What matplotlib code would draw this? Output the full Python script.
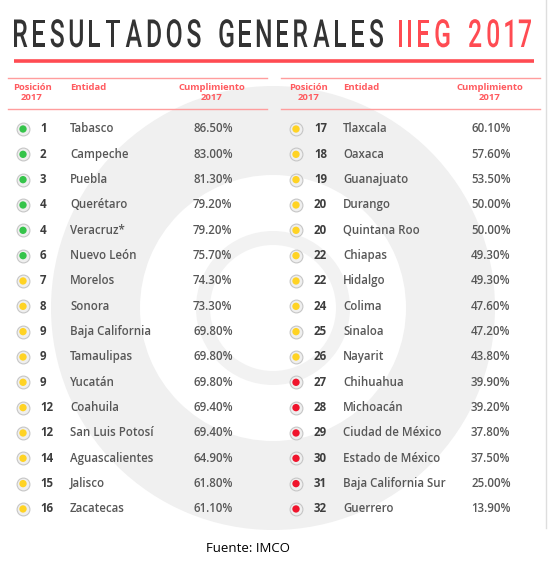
## IIEG 2017 table as a matplotlib figure
import matplotlib
matplotlib.use('Agg')
import matplotlib.pyplot as plt
from matplotlib.patches import Wedge, PathPatch
from matplotlib.textpath import TextPath
from matplotlib.font_manager import FontProperties
from matplotlib.transforms import Affine2D

## data
rank = [1, 2, 3, 4, 4, 6, 7, 8, 9, 9, 9, 12, 12, 14, 15, 16,
        17, 18, 19, 20, 20, 22, 22, 24, 25, 26, 27, 28, 29, 30, 31, 32]
entidad = ['Tabasco', 'Campeche', 'Puebla', 'Querétaro', 'Veracruz*', 'Nuevo León',
           'Morelos', 'Sonora', 'Baja California', 'Tamaulipas', 'Yucatán', 'Coahuila',
           'San Luis Potosí', 'Aguascalientes', 'Jalisco', 'Zacatecas',
           'Tlaxcala', 'Oaxaca', 'Guanajuato', 'Durango', 'Quintana Roo', 'Chiapas',
           'Hidalgo', 'Colima', 'Sinaloa', 'Nayarit', 'Chihuahua', 'Michoacán',
           'Ciudad de México', 'Estado de México', 'Baja California Sur', 'Guerrero']
cumplimiento = [86.5, 83.0, 81.3, 79.2, 79.2, 75.7, 74.3, 73.3, 69.8, 69.8, 69.8, 69.4,
                69.4, 64.9, 61.8, 61.1,
                60.1, 57.6, 53.5, 50.0, 50.0, 49.3, 49.3, 47.6, 47.2, 43.8, 39.9, 39.2,
                37.8, 37.5, 25.0, 13.9]
nivel = ['verde'] * 6 + ['amarillo'] * 20 + ['rojo'] * 6

titulo_1 = 'RESULTADOS GENERALES'
titulo_2 = 'IIEG 2017'
fuente = 'Fuente: IMCO'

## styles
nivel_color = {'verde': '#35c44a', 'amarillo': '#ffd324', 'rojo': '#f0142c'}
RED = '#ff4b52'
HDR = '#ff5a5f'
DARK = '#333333'
GREY = '#575757'
body = FontProperties(family='Open Sans', weight='semibold', size=8.3)
bold = FontProperties(family='Open Sans', weight='bold', size=8.3)
head = FontProperties(family='Open Sans', weight='bold', size=6.8)

fig = plt.figure(figsize=(5.48, 5.79), dpi=100)
ax = fig.add_axes([0, 0, 1, 1])
ax.set_xlim(0, 548)
ax.set_ylim(579, 0)
ax.axis('off')

## faint watermark rings behind the table
cx, cy = 273, 308
ax.add_patch(Wedge((cx, cy), 222, 0, 360, width=89, color='#f0f0f0', lw=0, zorder=0))
ax.add_patch(Wedge((cx, cy), 77, 0, 360, width=14, color='#f2f2f2', lw=0, zorder=0))
ax.plot([546, 546], [0, 528], color='#dedede', lw=1, zorder=0)


def spaced_title(text, x0, x1, baseline, cap_h, color, sx=0.64):
    ## draw condensed letters with even tracking so the text fills x0..x1
    prop = FontProperties(family='Roboto', weight='medium')
    size = cap_h / 0.711
    glyphs = []
    for ch in text:
        if ch == ' ':
            glyphs.append((None, 0, size * 0.18))
            continue
        tp = TextPath((0, 0), ch, size=size, prop=prop)
        bb = tp.get_extents()
        glyphs.append((tp, bb.x0, bb.width * sx))
    ink = sum(g[2] for g in glyphs)
    track = (x1 - x0 - ink) / (len(glyphs) - 1)
    x = x0
    for tp, left, w in glyphs:
        if tp is not None:
            tr = Affine2D().translate(-left, 0).scale(sx, -1).translate(x, baseline)
            ax.add_patch(PathPatch(tr.transform_path(tp), facecolor=color, lw=0, zorder=3))
        x += w + track


spaced_title(titulo_1, 14, 383, 47, 27.5, DARK)
spaced_title(titulo_2, 399, 531, 47, 27.5, RED)
ax.plot([14, 534], [60.5, 60.5], color=RED, lw=2.6, solid_capstyle='butt', zorder=3)

## two column blocks
cols = [dict(x0=8, x1=267, dot=23, rank=40, name=70, pct=193, pos=32, cum=212),
        dict(x0=281, x1=540, dot=296, rank=314, name=343, pct=471, pos=309, cum=490)]

for c, block in enumerate(cols):
    for y in (78, 108.5):
        ax.plot([block['x0'], block['x1']], [y, y], color='#ff9d9d', lw=1, zorder=2)
    ax.text(block['pos'], 87, 'Posición', fontproperties=head, color=HDR, ha='center', va='center')
    ax.text(block['pos'], 97.5, '2017', fontproperties=head, color=HDR, ha='center', va='center')
    ax.text(block['name'], 87, 'Entidad', fontproperties=head, color=HDR, ha='left', va='center')
    ax.text(block['cum'], 87, 'Cumplimiento', fontproperties=head, color=HDR, ha='center', va='center')
    ax.text(block['cum'], 97.5, '2017', fontproperties=head, color=HDR, ha='center', va='center')

    idx = range(c * 16, c * 16 + 16)
    ys = [129 + 25.33 * k for k in range(16)]
    ax.scatter([block['dot']] * 16, ys, s=85, facecolor='#efefef', edgecolor='#c6c6c6',
               linewidth=0.8, zorder=3)
    ax.scatter([block['dot']] * 16, ys, s=28,
               color=[nivel_color[nivel[i]] for i in idx], linewidth=0, zorder=4)
    for y, i in zip(ys, idx):
        ax.text(block['rank'], y, str(rank[i]), fontproperties=bold, color='#3d3d3d',
                ha='left', va='center', zorder=4)
        ax.text(block['name'], y, entidad[i], fontproperties=body, color=GREY,
                ha='left', va='center', zorder=4)
        ax.text(block['pct'], y, f'{cumplimiento[i]:.2f}%', fontproperties=body, color=GREY,
                ha='left', va='center', zorder=4)

ax.text(248, 548, fuente, family='Open Sans', fontsize=9.5, color='black',
        ha='center', va='center')

plt.savefig('out.png', dpi=100)
